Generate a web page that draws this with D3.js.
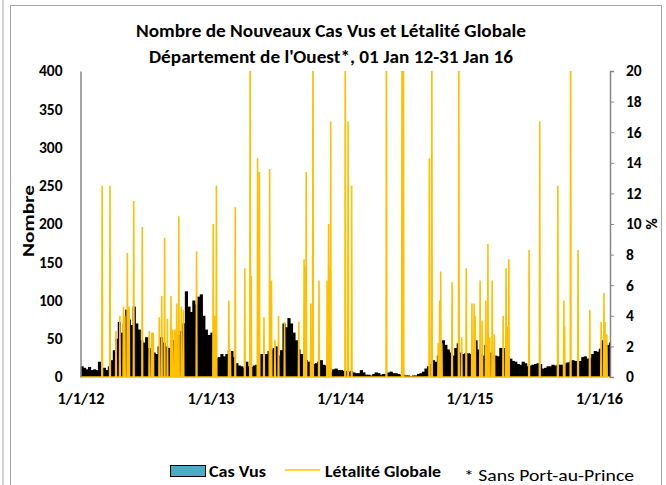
<!DOCTYPE html>
<html>
<head>
<meta charset="utf-8">
<script src="https://cdn.jsdelivr.net/npm/d3@7"></script>
<style>
  body { margin: 0; background: #fff; }
  svg text { font-family: Carlito, Lato, "Open Sans", sans-serif; }
</style>
</head>
<body>
<svg width="666" height="485"></svg>
<script>
// weekly level of new cases seen (each year's weeks start on 1 Jan)
const cas2012 = [14,12,10,13,9,10,9,20,10,12, 9,14,22,35,50,72,58,70,88,75,
  68,92,70,62,48,45,52,38,35,32, 30,40,52,45,40,38,44,48,42,55,
  60,70,112,92,85,100,95,105,108,80, 62,55,55];
const cas2013 = [58,33,25,26,30,27,30,35,34,26, 18,15,14,12,20,14,13,15,16,22,
  30,26,30,34,36,38,40,28,35,70, 65,77,70,58,48,36,30,27,22,20,
  18,17,18,20,22,16,15,8,7,10, 11,9,9];
const cas2014 = [9,8,8,7,8,6,5,5,9,6, 3,3,2,4,6,5,3,4,4,6,
  7,5,5,4,3,3,2,2,1,2, 2,4,5,7,11,14,17,22,20,28,
  40,48,42,36,32,28,38,44,32,30, 31,31,31];
const cas2015 = [30,32,48,36,30,28,42,50,32,29, 28,27,38,38,33,29,24,21,20,17,
  16,20,18,14,15,16,17,18,17,11, 12,14,14,16,15,16,16,16,18,19,
  20,22,21,20,21,26,27,24,25,30, 34,33,36];
const cas2016 = [37,48,44,42,45];
const casYears = [[2012, cas2012], [2013, cas2013], [2014, cas2014], [2015, cas2015], [2016, cas2016]];

// days with a non-zero case fatality rate (%); other days are 0
const letDates = ["2012-03-02","2012-03-24","2012-04-10","2012-04-21","2012-05-01","2012-05-05",
  "2012-05-12","2012-05-17","2012-05-30","2012-06-23","2012-07-13","2012-07-20","2012-07-24",
  "2012-08-10","2012-08-17","2012-08-25","2012-09-02","2012-09-12","2012-09-17","2012-09-23",
  "2012-09-28","2012-10-04","2012-10-11","2012-10-17","2012-11-23",
  "2013-01-09","2013-01-13","2013-01-18","2013-02-22","2013-02-26","2013-03-12","2013-04-08",
  "2013-04-23","2013-04-26","2013-05-14","2013-05-19","2013-06-01","2013-06-17","2013-06-22",
  "2013-07-02","2013-07-12","2013-07-29","2013-09-07","2013-09-22","2013-09-25","2013-09-28",
  "2013-10-11","2013-10-17","2013-11-03","2013-11-26","2013-11-30","2013-12-04","2013-12-06",
  "2014-01-16","2014-01-24","2014-02-03","2014-05-12","2014-06-25","2014-06-29","2014-09-10",
  "2014-09-17","2014-10-05","2014-10-09","2014-10-12","2014-10-15","2014-11-13","2014-12-02",
  "2014-12-10","2014-12-23",
  "2015-01-08","2015-01-14","2015-01-17","2015-01-31","2015-02-06","2015-02-16","2015-02-22",
  "2015-02-27","2015-03-06","2015-03-12","2015-04-06","2015-04-14","2015-04-18","2015-04-22",
  "2015-06-18","2015-07-18","2015-09-07","2015-09-24","2015-09-26","2015-10-13","2015-11-03",
  "2015-12-06","2016-01-07","2016-01-15","2016-01-18","2016-01-23"];
const letValues = [12.5,12.5,3.0,4.0,4.6,4.0, 8.1,4.6,11.5,9.8,3.0,2.9,2.9,
  3.9,5.3,9.1,3.8,5.3,3.1,3.1, 4.8,10.5,4.6,4.4,8.2,
  10.0,4.0,12.5,5.0,1.8,11.1,7.1, 25,6.6,14.3,13.4,3.9,13.6,6.3,
  2.4,4.0,3.6,3.6,7.7,7.2,13.4, 4.8,25,6.3,6.3,10.0,7.2,16.7,
  25,16.7,12.5,25,25,25,14.3, 25,2.2,5.0,6.9,2.2,6.2,25,
  2.6,7.1,
  4.8,4.8,4.0,6.3,3.7,5.0,8.7, 2.6,6.3,2.8,4.0,7.1,3.3,7.7,
  8.3,16.7,12.5,5.0,3.3,25,8.3, 4.4,3.6,5.5,3.6,2.8];

const yearTicks = ["2012-01-01","2013-01-01","2014-01-01","2015-01-01","2016-01-01"];
const leftTicks = [0,50,100,150,200,250,300,350,400];
const rightTicks = [0,2,4,6,8,10,12,14,16,18,20];

const parse = d3.timeParse("%Y-%m-%d");
const svg = d3.select("svg");

// frame
svg.append("line").attr("x1", 3).attr("x2", 3).attr("y1", 0).attr("y2", 485)
  .attr("stroke", "#a6a6a6").attr("stroke-width", 1);
svg.append("rect").attr("x", 10.5).attr("y", 5.5).attr("width", 651).attr("height", 490)
  .attr("fill", "none").attr("stroke", "#a6a6a6").attr("stroke-width", 1);

const plotL = 80.5, plotR = 610, plotT = 71, plotB = 377;
const x = d3.scaleTime().domain([new Date(2012,0,1), new Date(2016,1,1)]).range([plotL, plotR]);
const yL = d3.scaleLinear().domain([0, 400]).range([plotB, plotT]);
const yR = d3.scaleLinear().domain([0, 20]).range([plotB, plotT]);

svg.append("clipPath").attr("id", "plot")
  .append("rect").attr("x", plotL).attr("y", plotT).attr("width", plotR - plotL).attr("height", plotB - plotT + 3);

// cases bars, one per week
const weeks = [];
casYears.forEach(([yr, vals]) => {
  const yearEnd = yr === 2016 ? new Date(2016,1,1) : new Date(yr + 1, 0, 1);
  vals.forEach((v, i) => {
    const s = d3.timeDay.offset(new Date(yr, 0, 1), 7 * i);
    const e = d3.min([d3.timeDay.offset(s, 7), yearEnd]);
    weeks.push({s, e, v});
  });
});
const g = svg.append("g").attr("clip-path", "url(#plot)");
g.selectAll("rect.cas").data(weeks).enter().append("rect")
  .attr("class", "cas")
  .attr("x", d => x(d.s))
  .attr("width", d => x(d.e) - x(d.s) + 0.7)
  .attr("y", d => yL(d.v))
  .attr("height", d => yL(0) - yL(d.v))
  .attr("fill", "#000");

// lethality line, daily
const letMap = new Map(letDates.map((d, i) => [d, letValues[i]]));
const fmtDay = d3.timeFormat("%Y-%m-%d");
const days = d3.timeDay.range(new Date(2012,0,1), new Date(2016,1,1))
  .map(d => ({d, v: letMap.get(fmtDay(d)) || 0}));
g.append("path").datum(days)
  .attr("fill", "none").attr("stroke", "#ffc000").attr("stroke-width", 1.6)
  .attr("stroke-linejoin", "bevel")
  .attr("d", d3.line().x(d => x(d.d)).y(d => yR(d.v)));

// axes
const axL = svg.append("g").attr("transform", `translate(${plotL},0)`)
  .call(d3.axisLeft(yL).tickValues(leftTicks).tickSize(0).tickPadding(18));
axL.select(".domain").attr("stroke", "#868686").attr("stroke-width", 1.5);
const axR = svg.append("g").attr("transform", `translate(${plotR},0)`)
  .call(d3.axisRight(yR).tickValues(rightTicks).tickSize(4).tickPadding(12));
axR.select(".domain").attr("stroke", "#868686").attr("stroke-width", 1.5);
axR.selectAll(".tick line").attr("stroke", "#868686");
const axB = svg.append("g").attr("transform", `translate(0,${plotB})`)
  .call(d3.axisBottom(x).tickValues(yearTicks.map(parse)).tickFormat(d3.timeFormat("%-m/%-d/%y"))
    .tickSize(0).tickPadding(16));
axB.select(".domain").remove();
svg.selectAll(".tick text").attr("font-size", 15.5).attr("font-weight", "bold").attr("fill", "#000")
  .style("font-family", "Carlito, Lato, sans-serif");
axB.selectAll(".tick text").attr("textLength", 47).attr("lengthAdjust", "spacingAndGlyphs");

// text helper: stretch to the width seen in the chart
function label(px, py, str, size, bold, width, anchor) {
  const t = svg.append("text").attr("x", px).attr("y", py)
    .attr("font-size", size).attr("font-weight", bold ? "bold" : "normal")
    .attr("text-anchor", anchor || "start").text(str);
  if (width) t.attr("textLength", width).attr("lengthAdjust", "spacingAndGlyphs");
  return t;
}

// titles
label(331, 37, "Nombre de Nouveaux Cas Vus et Létalité Globale", 17.5, true, 390, "middle");
label(331, 63, "Département de l'Ouest*, 01 Jan 12-31 Jan 16", 17.5, true, 364, "middle");
label(0, 0, "Nombre", 15.5, true, 72, "middle").attr("transform", "translate(34,221) rotate(-90)");
label(0, 0, "%", 15.5, true, null, "middle").attr("transform", "translate(646,224) rotate(90)");

// legend
svg.append("rect").attr("x", 170.5).attr("y", 465.5).attr("width", 35).attr("height", 11)
  .attr("fill", "#4bacc6").attr("stroke", "#000").attr("stroke-width", 1);
label(209, 477, "Cas Vus", 15.5, true, 57);
svg.append("line").attr("x1", 285).attr("x2", 320).attr("y1", 470).attr("y2", 470)
  .attr("stroke", "#ffc000").attr("stroke-width", 1.5);
label(325, 477, "Létalité Globale", 15.5, true, 116);
label(464, 481, "* Sans Port-au-Prince", 17, false, 170);
</script>
</body>
</html>
